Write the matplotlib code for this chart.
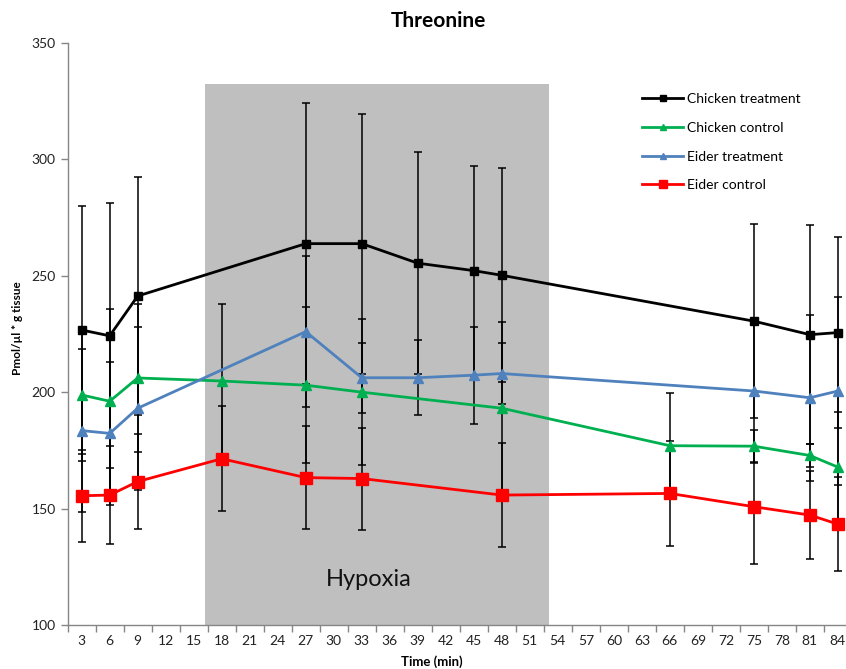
import matplotlib
matplotlib.use("Agg")
import matplotlib.pyplot as plt
from matplotlib.patches import Rectangle

# Threonine concentration over time, treatment vs control, chicken vs eider
chicken_treat_t = [3, 6, 9, 27, 33, 39, 45, 48, 75, 81, 84]
chicken_treat = [226.7, 224.2, 241.3, 263.8, 263.8, 255.4, 252.2, 250.2, 230.5, 224.7, 225.6]
chicken_treat_err = [53.3, 56.9, 51.3, 60.5, 55.8, 47.8, 45.1, 46.0, 41.7, 47.1, 40.9]

chicken_ctrl_t = [3, 6, 9, 18, 27, 33, 48, 66, 75, 81, 84]
chicken_ctrl = [198.8, 196.1, 206.1, 204.8, 203.0, 200.0, 193.1, 177.0, 176.8, 172.8, 167.8]
chicken_ctrl_err = [28.4, 39.8, 31.6, 33.1, 33.4, 31.3, 37.2, 22.6, 7.0, 5.0, 23.6]

eider_treat_t = [3, 6, 9, 27, 33, 39, 45, 48, 75, 81, 84]
eider_treat = [183.5, 182.3, 193.1, 226.0, 206.2, 206.2, 207.3, 208.0, 200.5, 197.6, 200.5]
eider_treat_err = [35.1, 30.6, 35.0, 32.5, 15.1, 16.2, 20.8, 13.0, 30.8, 35.7, 40.5]

eider_ctrl_t = [3, 6, 9, 18, 27, 33, 48, 66, 75, 81, 84]
eider_ctrl = [155.5, 155.8, 161.6, 171.4, 163.3, 162.9, 155.8, 156.5, 150.8, 147.2, 143.3]
eider_ctrl_err = [19.8, 20.9, 20.3, 22.5, 22.2, 21.9, 22.2, 22.7, 24.5, 19.0, 20.2]

x_ticks = list(range(3, 85, 3))

# hypoxia period (min) and top of the shaded box
hypoxia_start, hypoxia_end, hypoxia_top = 16.2, 53.1, 332.4

series = [
    ("Chicken treatment", chicken_treat_t, chicken_treat, chicken_treat_err, "#000000", "s", 5.5),
    ("Chicken control", chicken_ctrl_t, chicken_ctrl, chicken_ctrl_err, "#00B050", "^", 7),
    ("Eider treatment", eider_treat_t, eider_treat, eider_treat_err, "#4F81BD", "^", 7),
    ("Eider control", eider_ctrl_t, eider_ctrl, eider_ctrl_err, "#FF0000", "s", 8),
]

fig = plt.figure(figsize=(8.46, 6.69), dpi=100)
ax = fig.add_axes([0.080, 0.0658, 0.927, 0.870])

ax.add_patch(Rectangle((hypoxia_start, 100), hypoxia_end - hypoxia_start, hypoxia_top - 100,
                       facecolor="#BFBFBF", edgecolor="none", zorder=0))
ax.text(33.7, 119.5, "Hypoxia", family="Lato", fontsize=17,
        ha="center", va="center", color="#111111", zorder=1)

# error bars first so the markers sit on top
for name, t, y, err, color, marker, ms in series:
    ax.errorbar(t, y, yerr=err, fmt="none", ecolor="black", elinewidth=1.1,
                capsize=3.2, capthick=1.1, zorder=2)

for name, t, y, err, color, marker, ms in series:
    ax.plot(t, y, color=color, marker=marker, markersize=ms, linewidth=2.0,
            label=name, zorder=3)

ax.set_xlim(1.5, 85.5)
ax.set_ylim(100, 350)

ax.set_xticks([v - 1.5 for v in x_ticks] + [85.5])
ax.set_xticklabels([])
ax.set_xticks(x_ticks, minor=True)
ax.set_xticklabels([str(v) for v in x_ticks], minor=True)
ax.tick_params(axis="x", which="major", length=5, width=1, color="#868686", direction="out")
ax.tick_params(axis="x", which="minor", length=0, pad=7, labelsize=10, labelcolor="#222222")
ax.set_yticks(range(100, 351, 50))
ax.tick_params(axis="y", length=5, width=1, color="#868686", direction="out",
               labelsize=10, labelcolor="#222222")
for lbl in ax.get_xticklabels(minor=True) + ax.get_yticklabels():
    lbl.set_family("Lato")

for side in ["top", "right"]:
    ax.spines[side].set_visible(False)
for side in ["left", "bottom"]:
    ax.spines[side].set_color("#868686")
    ax.spines[side].set_linewidth(1)

fig.text(0.518, 0.968, "Threonine", family="Lato", fontsize=15, fontweight="bold",
         ha="center", va="center")
fig.text(0.511, 0.011, "Time (min)", family="Lato", fontsize=9.5, fontweight="bold",
         ha="center", va="center")
fig.text(0.021, 0.51, "Pmol/µl * g tissue", family="Lato", fontsize=8.5, fontweight="bold",
         rotation=90, ha="center", va="center")

leg = ax.legend(loc="upper left", bbox_to_anchor=(0.717, 0.935), frameon=False,
                handlelength=2.9, labelspacing=1.2, handletextpad=0.3,
                markerscale=0.7, prop={"family": "Lato", "size": 10})

fig.savefig("out.png", dpi=100)
